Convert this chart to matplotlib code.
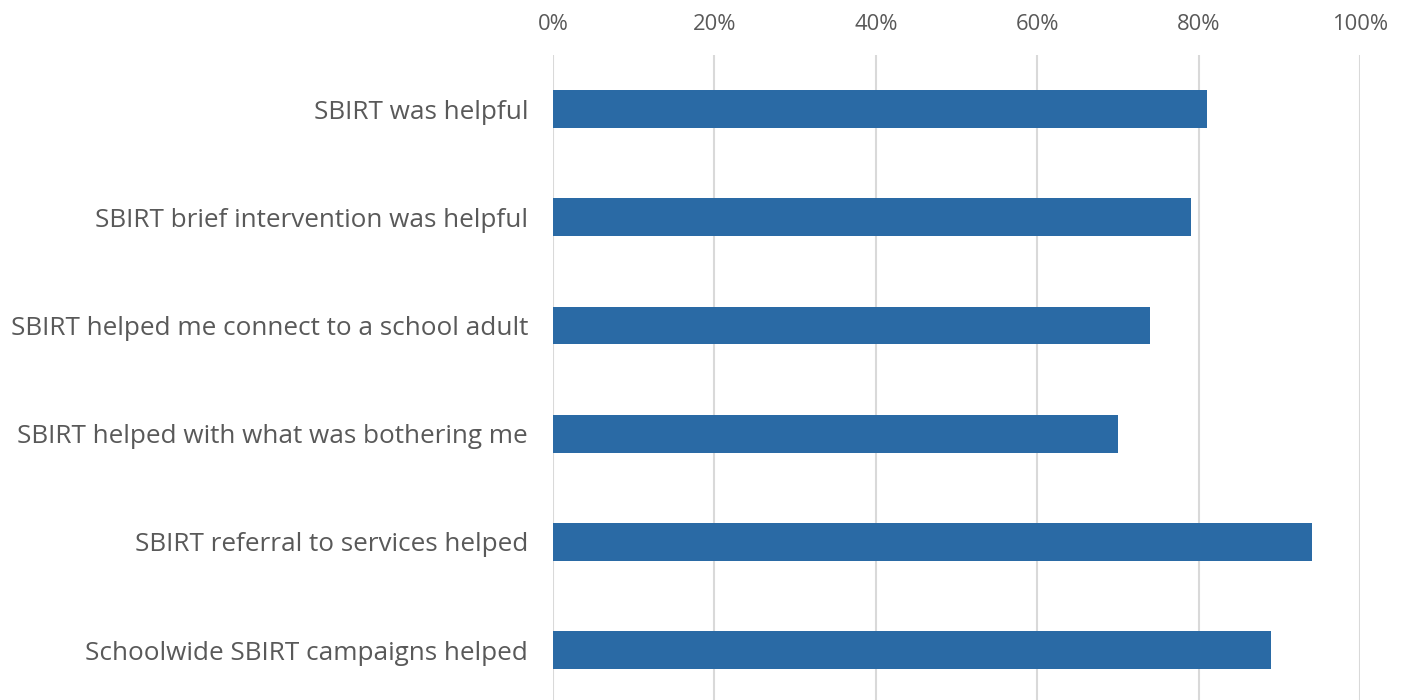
import matplotlib.pyplot as plt
from matplotlib.ticker import PercentFormatter

# survey items, top to bottom
labels = [
    "SBIRT was helpful",
    "SBIRT brief intervention was helpful",
    "SBIRT helped me connect to a school adult",
    "SBIRT helped with what was bothering me",
    "SBIRT referral to services helped",
    "Schoolwide SBIRT campaigns helped",
]
pct = [81, 79, 74, 70, 94, 89]
ticks = [0, 20, 40, 60, 80, 100]

plt.rcParams['font.family'] = ['Open Sans', 'DejaVu Sans']
txt = '#595959'

fig = plt.figure(figsize=(14.06, 7.0), dpi=100)
ax = fig.add_axes([553 / 1406, 0.0, 807 / 1406, 645 / 700])

ax.barh(range(len(labels)), pct, height=0.35, color='#2a6aa5', zorder=3)

ax.set_xlim(0, 100)
ax.set_ylim(5.96 - 0.5, -0.5)
ax.set_xticks(ticks)
ax.xaxis.set_major_formatter(PercentFormatter(decimals=0))
ax.xaxis.tick_top()
ax.set_yticks(range(len(labels)))
ax.set_yticklabels(labels)

ax.tick_params(axis='x', length=0, pad=14.5, labelsize=15.8, labelcolor=txt)
ax.tick_params(axis='y', length=0, pad=18, labelsize=18.8, labelcolor=txt)
ax.grid(axis='x', color='#d9d9d9', linewidth=1.5, zorder=0)
for s in ax.spines.values():
    s.set_visible(False)

plt.savefig('out.png', dpi=100)
